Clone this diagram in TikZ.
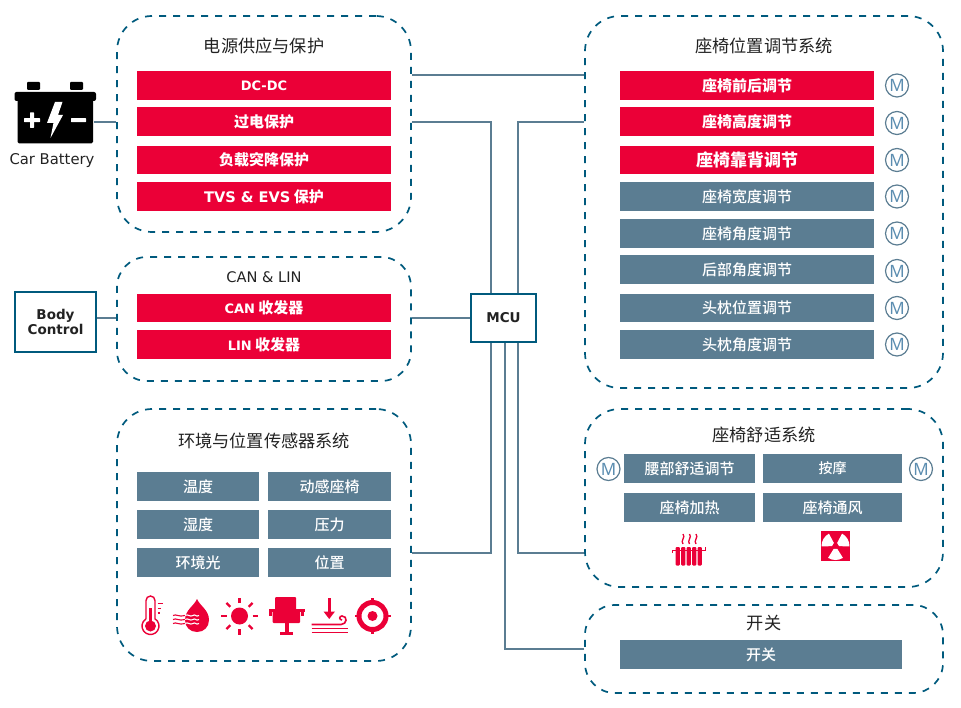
\documentclass[tikz,border=0pt]{standalone}
\usepackage{fontspec}
\usetikzlibrary{calc}
\setmainfont{DejaVu Sans}
\newfontfamily\cjkf{Noto Sans CJK SC}
\newfontfamily\cjkm{Noto Sans CJK SC Medium}
\newfontfamily\mfont{Noto Sans}
\definecolor{dashblue}{HTML}{005A7D}
\definecolor{slate}{HTML}{5B7D92}
\definecolor{hotred}{HTML}{EB0037}
\definecolor{inkc}{HTML}{222222}
\definecolor{motorc}{HTML}{5B8DB0}
\tikzset{
  groupbox/.style={draw=dashblue,line width=1.7pt,dash pattern=on 7pt off 7pt,rounded corners=#1,inner sep=0pt},
  groupbox/.default=35pt,
  redbar/.style={fill=hotred,text=white,inner sep=0pt,font=\fontsize{15}{15}\selectfont\cjkf\bfseries},
  greybar/.style={fill=slate,text=white,inner sep=0pt,font=\fontsize{15}{15}\selectfont\cjkm},
  grouptitle/.style={text=inkc,inner sep=0pt,font=\fontsize{17.2}{18}\selectfont\cjkf},
  latintext/.style={text=inkc,inner sep=0pt,font=\fontsize{14.8}{15}\selectfont},
  conn/.style={draw=slate,line width=1.7pt},
  thinconn/.style={draw=slate,line width=1.2pt},
  hubbox/.style={draw=dashblue,line width=1.9pt,fill=white,inner sep=0pt,align=center,text=inkc},
  motor/.style={circle,draw=slate,line width=1.2pt,minimum size=23pt,inner sep=0pt,text=motorc,font=\fontsize{17}{17}\selectfont\mfont},
}
\newcommand{\ltb}[1]{{\fontspec{DejaVu Sans Bold}\fontsize{13}{13}\selectfont #1}}
\begin{document}
\begin{tikzpicture}[x=1pt,y=-1pt]
\useasboundingbox (0,0) rectangle (961,708);
% group boxes
\node[groupbox,minimum width=294pt,minimum height=216pt] (psu) at (264,124) {};
\node[groupbox=30pt,minimum width=294pt,minimum height=124pt] (canbox) at (264,319) {};
\node[groupbox,minimum width=294pt,minimum height=252pt] (sensors) at (264,535) {};
\node[groupbox,minimum width=358pt,minimum height=372pt] (seat) at (764,202) {};
\node[groupbox,minimum width=358pt,minimum height=178pt] (comfort) at (764,498) {};
\node[groupbox=30pt,minimum width=358pt,minimum height=88pt] (switchbox) at (764,649) {};
\node[hubbox,minimum width=65pt,minimum height=48pt,font={\fontspec{DejaVu Sans Bold}\fontsize{13.5}{13.5}\selectfont}] (mcu) at (503.5,318) {MCU};
\node[hubbox,minimum width=81pt,minimum height=60pt,font={\fontspec{DejaVu Sans Bold}\fontsize{13.5}{15}\selectfont}] (body) at (55.5,322) {Body\\Control};
\coordinate (batt) at (94,122);
% connectors
\draw[conn] (batt) -- (psu.west |- batt);
\draw[conn] (body.east |- 0,318) -- (canbox.west |- 0,318);
\draw[conn] (canbox.east |- 0,318) -- (mcu.west);
\draw[conn] (psu.east |- 0,75) -- (seat.west |- 0,75);
\draw[conn] (psu.east |- 0,122) -| (mcu.north -| 491,0);
\draw[conn] (seat.west |- 0,122) -| (mcu.north -| 518,0);
\draw[conn] (sensors.east |- 0,553) -| (mcu.south -| 491,0);
\draw[conn] (comfort.west |- 0,553) -| (mcu.south -| 518,0);
\draw[thinconn] (switchbox.west |- 0,649) -| (mcu.south -| 505,0);
% titles
\node[grouptitle] (t1) at (264,46) {电源供应与保护};
\node[latintext,font=\fontsize{14.6}{15}\selectfont] (t2) at (264,277) {CAN \& LIN};
\node[grouptitle] (t3) at (264,441) {环境与位置传感器系统};
\node[grouptitle] (t4) at (764,46) {座椅位置调节系统};
\node[grouptitle] (t5) at (764,435) {座椅舒适系统};
\node[grouptitle] (t6) at (764,623) {开关};
\node[latintext] (battlabel) at (52,161) {Car Battery};
% left bars
\node[redbar,minimum width=254pt,minimum height=29pt] (b1) at (264,85.5) {\ltb{DC-DC}};
\node[redbar,minimum width=254pt,minimum height=29pt] (b2) at (264,121.5) {过电保护};
\node[redbar,minimum width=254pt,minimum height=28pt] (b3) at (264,160) {负载突降保护};
\node[redbar,minimum width=254pt,minimum height=29pt] (b4) at (264,196.5) {{\fontspec{DejaVu Sans Bold}\fontsize{14.6}{14.6}\selectfont TVS \& EVS} 保护};
\node[redbar,minimum width=254pt,minimum height=28pt] (c1) at (264,308) {\ltb{CAN} 收发器};
\node[redbar,minimum width=254pt,minimum height=29pt] (c2) at (264,344.5) {\ltb{LIN} 收发器};
% sensor tiles
\node[greybar,minimum width=122pt,minimum height=29pt] (s1) at (198,486.5) {温度};
\node[greybar,minimum width=123pt,minimum height=29pt] (s2) at (329.5,486.5) {动感座椅};
\node[greybar,minimum width=122pt,minimum height=29pt] (s3) at (198,524.5) {湿度};
\node[greybar,minimum width=123pt,minimum height=29pt] (s4) at (329.5,524.5) {压力};
\node[greybar,minimum width=122pt,minimum height=29pt] (s5) at (198,562.5) {环境光};
\node[greybar,minimum width=123pt,minimum height=29pt] (s6) at (329.5,562.5) {位置};
% seat position bars
\node[redbar,minimum width=254pt,minimum height=29pt] (p1) at (747,85.5) {座椅前后调节};
\node[redbar,minimum width=254pt,minimum height=29pt] (p2) at (747,121.5) {座椅高度调节};
\node[redbar,minimum width=254pt,minimum height=28pt,font=\fontsize{17}{17}\selectfont\cjkf\bfseries] (p3) at (747,160) {座椅靠背调节};
\node[greybar,minimum width=254pt,minimum height=29pt] (p4) at (747,196.5) {座椅宽度调节};
\node[greybar,minimum width=254pt,minimum height=29pt] (p5) at (747,233.5) {座椅角度调节};
\node[greybar,minimum width=254pt,minimum height=29pt] (p6) at (747,269.5) {后部角度调节};
\node[greybar,minimum width=254pt,minimum height=28pt] (p7) at (747,308) {头枕位置调节};
\node[greybar,minimum width=254pt,minimum height=29pt] (p8) at (747,344.5) {头枕角度调节};
% motors
\node[motor] (m1) at (897,85.5) {M};
\node[motor] (m2) at (897,123) {M};
\node[motor] (m3) at (897,160) {M};
\node[motor] (m4) at (897,196.5) {M};
\node[motor] (m5) at (897,233.5) {M};
\node[motor] (m6) at (897,271) {M};
\node[motor] (m7) at (897,308) {M};
\node[motor] (m8) at (897,344.5) {M};
\node[motor] (m9) at (608.5,469) {M};
\node[motor] (m10) at (921,469) {M};
% comfort tiles
\node[greybar,minimum width=131pt,minimum height=29pt] (k1) at (689.5,468.5) {腰部舒适调节};
\node[greybar,minimum width=139pt,minimum height=29pt,font=\fontsize{14}{14}\selectfont\cjkm] (k2) at (832.5,468.5) {按摩};
\node[greybar,minimum width=131pt,minimum height=29pt] (k3) at (689.5,507.5) {座椅加热};
\node[greybar,minimum width=139pt,minimum height=29pt] (k4) at (832.5,507.5) {座椅通风};
\node[greybar,minimum width=282pt,minimum height=29pt] (sw) at (761,654.5) {开关};
% battery icon
\fill[black,rounded corners=1pt] (27,82) rectangle (40,90);
\fill[black,rounded corners=1pt] (70,82) rectangle (83,90);
\fill[black,rounded corners=2pt] (14.5,92) rectangle (96,101);
\fill[black,rounded corners=1.5pt] (17.5,98) rectangle (93,143.5);
\fill[white,rounded corners=.5pt] (24,118.2) rectangle (40,122.2);
\fill[white,rounded corners=.5pt] (30,112.5) rectangle (34,128);
\fill[white,rounded corners=.5pt] (71,118.2) rectangle (86,122.2);
\fill[white] (55,102) -- (62.5,102) -- (58,115) -- (63,115) -- (50.5,138) -- (53.5,123) -- (47,123) -- cycle;
% thermometer
\draw[hotred,line width=1.4pt] (146,618.8) -- (146,600.5) arc[start angle=180,end angle=360,radius=4.5] -- (155,618.8) arc[start angle=-58,end angle=238,radius=8.5];
\fill[hotred] (150.5,626) circle (5.5);
\fill[hotred] (149,608) rectangle (152,624);
\draw[hotred,line width=1.1pt] (157.5,603.5) -- (162.5,603.5) (157.5,608.5) -- (161,608.5) (157.5,613) -- (160,613);
% drop
\fill[hotred] (197,599) .. controls (200,606) and (209,610) .. (209,620) .. controls (209,627) and (204,632) .. (197,632) .. controls (190,632) and (185,627) .. (185,620) .. controls (185,610) and (194,606) .. (197,599) -- cycle;
\foreach \yy in {615.5,619.5,623.5}{
  \draw[white,line width=1.1pt] (185,\yy) .. controls (188,\yy-2) and (190,\yy+2) .. (193,\yy) .. controls (195,\yy-2) and (196,\yy+2) .. (199,\yy);
  \draw[hotred,line width=1.1pt] (173,\yy) .. controls (176,\yy-2) and (179,\yy+2) .. (185,\yy);
}
% sun
\fill[hotred] (239.5,616) circle (8.5);
\foreach \aa in {0,45,...,315}{
  \draw[hotred,line width=2.4pt] ($(239.5,616)+(\aa:13)$) -- ($(239.5,616)+(\aa:18.5)$);
}
% chair
\fill[hotred,rounded corners=1pt] (275,597) rectangle (296,615);
\fill[hotred,rounded corners=1pt] (272.5,611) rectangle (300,623);
\fill[hotred] (268.5,609) rectangle (276,612);
\fill[hotred] (296,609) rectangle (304.5,612);
\fill[hotred] (269,609) rectangle (272,616);
\fill[hotred] (301,609) rectangle (304,616);
\fill[hotred] (285,623) rectangle (289,633);
\fill[hotred] (280,632) rectangle (293,634.5);
% wind/pressure
\fill[hotred] (327.5,598) rectangle (331,612);
\fill[hotred] (323.5,611.5) -- (335,611.5) -- (329.2,619) -- cycle;
\draw[hotred,line width=1.6pt] (311.5,624.5) -- (341,624.5) .. controls (347,624.5) and (348,616) .. (342,616) .. controls (339,616) and (339,620) .. (342,620);
\draw[hotred,line width=1.6pt] (311.5,628.5) -- (348,628.5) (311.5,632.5) -- (348,632.5);
% target
\draw[hotred,line width=5pt] (372.5,616) circle (13.5);
\fill[hotred] (372.5,616) circle (5);
\foreach \aa in {0,90,180,270}{
  \draw[hotred,line width=2.5pt] ($(372.5,616)+(\aa:13)$) -- ($(372.5,616)+(\aa:18)$);
}
% radiator
\fill[hotred] (672,549.5) rectangle (706,551);
\fill[hotred] (672,549.5) rectangle (673,553);
\fill[hotred] (705,547) rectangle (706,551);
\foreach \xx in {675.5,681,686.5,692,697.5}{
  \fill[hotred,rounded corners=1pt] (\xx,547) rectangle (\xx+4.3,565.5);
}
\foreach \xx in {683,689.5,696}{
  \draw[hotred,line width=1.3pt] (\xx,534) .. controls (\xx+3,537) and (\xx-3,541) .. (\xx,544);
}
% fan
\fill[hotred] (821,531) rectangle (850,561);
\foreach \aa in {210,330,90}{
  \fill[white] ($(835.5,546)+(\aa-32:3.5)$) -- ($(835.5,546)+(\aa-32:14)$) arc[start angle=\aa-32,end angle=\aa+32,radius=14] -- ($(835.5,546)+(\aa+32:3.5)$) -- cycle;
}
\end{tikzpicture}
\end{document}
